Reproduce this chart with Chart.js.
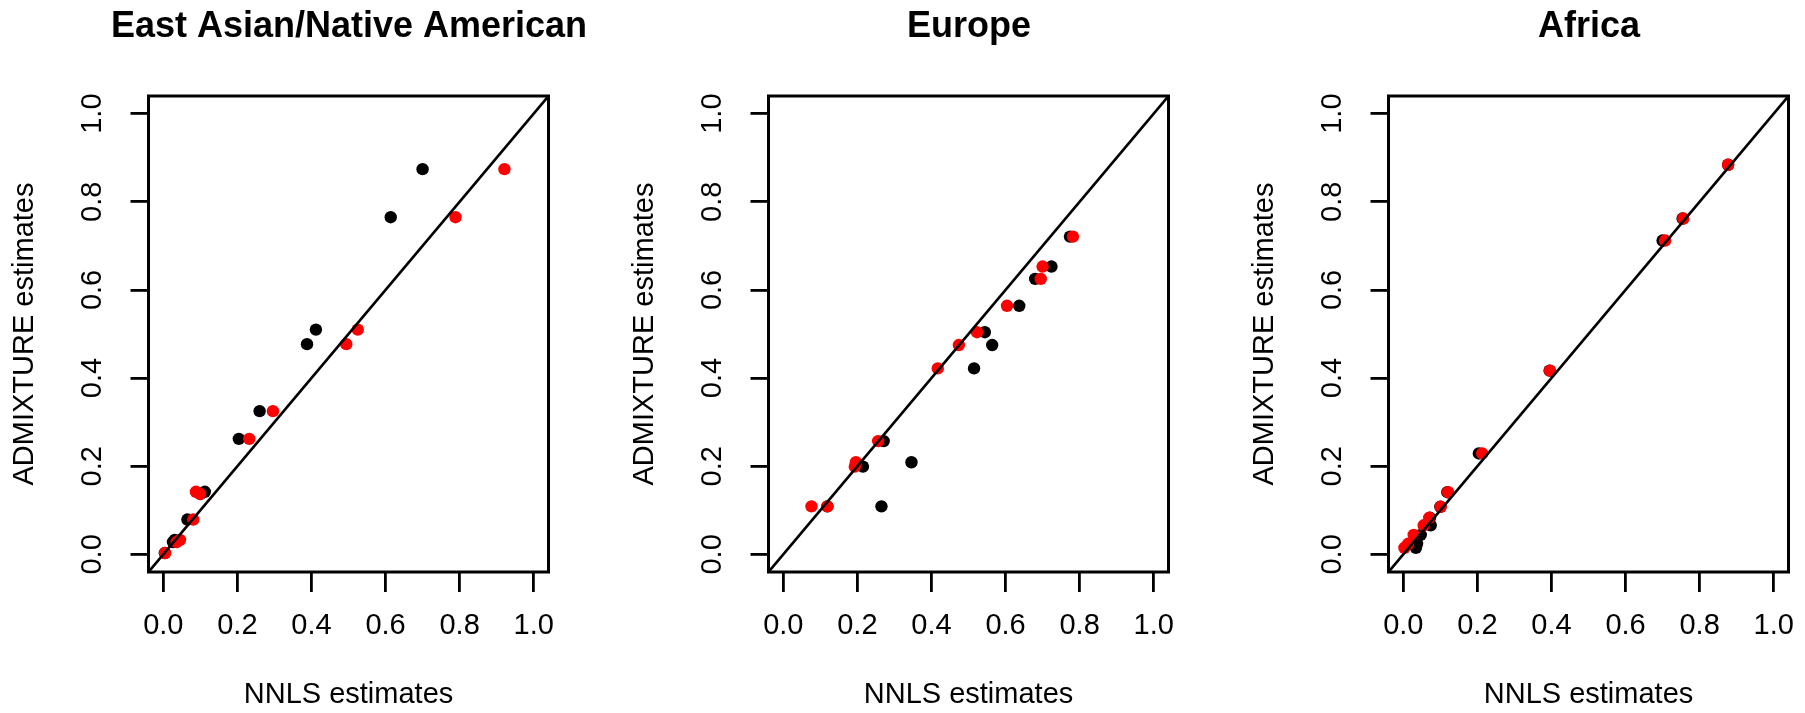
<!DOCTYPE html>
<html>
<head>
<meta charset="utf-8">
<script src="https://cdn.jsdelivr.net/npm/chart.js@4.4.1/dist/chart.umd.min.js"></script>
<style>
  html, body { margin: 0; padding: 0; background: #fff; overflow: hidden; }
  .panel { position: absolute; top: 0; width: 698px; height: 713px; }
</style>
</head>
<body>
<div class="panel" style="left:0px"><canvas id="ean" width="698" height="713"></canvas></div>
<div class="panel" style="left:620px"><canvas id="eur" width="698" height="713"></canvas></div>
<div class="panel" style="left:1240px"><canvas id="afr" width="698" height="713"></canvas></div>
<script>
const tickValues = [0, 0.2, 0.4, 0.6, 0.8, 1.0];
const axisMin = -0.04;
const axisMax = 1.04;
const xTitle = 'NNLS estimates';
const yTitle = 'ADMIXTURE estimates';

// East Asian/Native American
const eanAdmixture = [0.874, 0.765, 0.510, 0.477, 0.325, 0.262, 0.142, 0.137, 0.079, 0.033, 0.028, 0.003];
const eanNnlsBlack = [0.700, 0.614, 0.412, 0.388, 0.260, 0.204, 0.112, 0.100, 0.065, 0.031, 0.026, 0.004];
const eanNnlsRed   = [0.921, 0.789, 0.525, 0.494, 0.296, 0.232, 0.088, 0.099, 0.081, 0.045, 0.036, 0.005];

// Europe
const eurAdmixture = [0.721, 0.653, 0.625, 0.564, 0.504, 0.475, 0.422, 0.257, 0.209, 0.199, 0.109, 0.109];
const eurNnlsBlack = [0.774, 0.724, 0.680, 0.637, 0.544, 0.564, 0.515, 0.271, 0.346, 0.215, 0.265, 0.119];
const eurNnlsRed   = [0.782, 0.700, 0.695, 0.604, 0.523, 0.474, 0.417, 0.256, 0.196, 0.193, 0.076, 0.119];

// Africa
const afrAdmixture = [0.884, 0.762, 0.712, 0.417, 0.229, 0.141, 0.108, 0.083, 0.066, 0.044, 0.024, 0.015];
const afrNnlsBlack = [0.877, 0.754, 0.700, 0.395, 0.204, 0.119, 0.100, 0.072, 0.074, 0.047, 0.037, 0.034];
const afrNnlsRed   = [0.877, 0.756, 0.707, 0.396, 0.213, 0.121, 0.101, 0.070, 0.055, 0.028, 0.013, 0.003];

Chart.defaults.font.family = '"Liberation Sans", Arial, sans-serif';
Chart.defaults.color = '#000';

const boxPlugin = {
    id: 'box',
    afterDraw: function (chart) {
        const a = chart.chartArea;
        const ctx = chart.ctx;
        ctx.save();
        ctx.strokeStyle = '#000';
        ctx.lineWidth = 3;
        ctx.strokeRect(a.left, a.top, a.right - a.left, a.bottom - a.top);
        ctx.restore();
    }
};

function toPoints(xs, ys) {
    return xs.map(function (x, i) {
        return {x: x, y: ys[i]};
    });
}

function setTicks(axis) {
    axis.ticks = tickValues.map(function (v) {
        return {value: v};
    });
}

function createChartConfig(title, admixture, nnlsBlack, nnlsRed) {
    return {
        type: 'scatter',
        data: {
            datasets: [{
                data: [{x: axisMin, y: axisMin}, {x: axisMax, y: axisMax}],
                showLine: true,
                borderColor: '#000',
                borderWidth: 2.6,
                pointRadius: 0,
                order: 0
            }, {
                data: toPoints(nnlsRed, admixture),
                backgroundColor: '#ff0000',
                borderWidth: 0,
                pointRadius: 6.2,
                order: 1
            }, {
                data: toPoints(nnlsBlack, admixture),
                backgroundColor: '#000',
                borderWidth: 0,
                pointRadius: 6.2,
                order: 2
            }]
        },
        options: {
            responsive: false,
            animation: false,
            devicePixelRatio: 1,
            plugins: {
                legend: {display: false},
                tooltip: {enabled: false},
                title: {
                    display: true,
                    text: title,
                    color: '#000',
                    font: {size: 36, weight: 'bold'},
                    padding: {top: 5.4, bottom: 47.4}
                }
            },
            scales: {
                x: {
                    type: 'linear',
                    min: axisMin,
                    max: axisMax,
                    afterBuildTicks: setTicks,
                    afterFit: function (axis) { axis.height = 141; },
                    border: {display: false},
                    grid: {drawOnChartArea: false, drawTicks: true, tickLength: 20, color: '#000', lineWidth: 2.8},
                    ticks: {
                        padding: 16.6,
                        font: {size: 29},
                        color: '#000',
                        maxRotation: 0,
                        autoSkip: false,
                        callback: function (v) { return v.toFixed(1); }
                    },
                    title: {display: true, text: xTitle, color: '#000', font: {size: 29}, padding: {top: 0, bottom: 0.6}}
                },
                y: {
                    type: 'linear',
                    min: axisMin,
                    max: axisMax,
                    afterBuildTicks: setTicks,
                    afterFit: function (axis) { axis.width = 148.5; },
                    border: {display: false},
                    grid: {drawOnChartArea: false, drawTicks: true, tickLength: 18, color: '#000', lineWidth: 2.8},
                    ticks: {
                        padding: 17,
                        font: {size: 29},
                        color: '#000',
                        minRotation: 90,
                        maxRotation: 90,
                        crossAlign: 'center',
                        autoSkip: false,
                        callback: function (v) { return v.toFixed(1); }
                    },
                    title: {display: true, text: yTitle, color: '#000', font: {size: 29}, padding: {top: 7.6, bottom: 0}}
                },
                // empty right margin so the full-width title is centred over the plot box
                yMargin: {
                    type: 'linear',
                    position: 'right',
                    afterFit: function (axis) { axis.width = 149.5; },
                    border: {display: false},
                    grid: {display: false},
                    ticks: {display: false},
                    title: {display: false}
                }
            }
        },
        plugins: [boxPlugin]
    };
}

const eanChart = new Chart(document.getElementById('ean').getContext('2d'),
    createChartConfig('East Asian/Native American', eanAdmixture, eanNnlsBlack, eanNnlsRed));
const eurChart = new Chart(document.getElementById('eur').getContext('2d'),
    createChartConfig('Europe', eurAdmixture, eurNnlsBlack, eurNnlsRed));
const afrChart = new Chart(document.getElementById('afr').getContext('2d'),
    createChartConfig('Africa', afrAdmixture, afrNnlsBlack, afrNnlsRed));
</script>
</body>
</html>
